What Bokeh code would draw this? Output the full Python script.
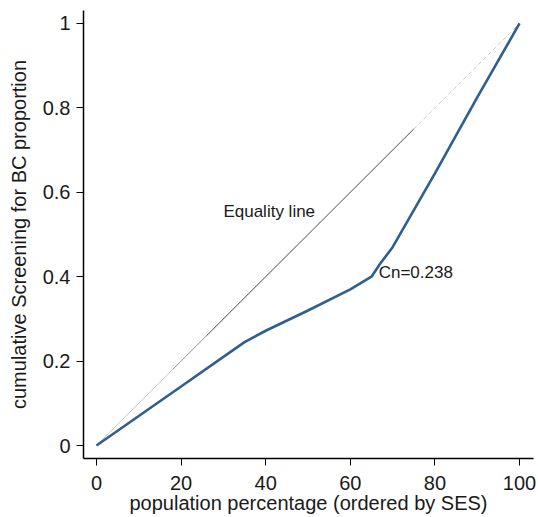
from bokeh.plotting import figure
from bokeh.models import FixedTicker, Range1d, Label
from bokeh.embed import file_html
from bokeh.resources import INLINE

# Concentration curve data
pop_pct = [0, 10, 20, 30, 35, 40, 50, 60, 65, 67, 70, 80, 90, 100]
cum_screen = [0, 0.07, 0.14, 0.21, 0.245, 0.272, 0.32, 0.37, 0.40, 0.43, 0.47, 0.645, 0.825, 1.0]

# Equality line break points (light start, darker middle, dashed light end)
eq_x = [0, 18, 26, 75, 100]
eq_y = [0, 0.18, 0.26, 0.75, 1.0]

x_ticks = [0, 20, 40, 60, 80, 100]
y_ticks = [0, 0.2, 0.4, 0.6, 0.8, 1.0]
y_tick_labels = {0: "0", 0.2: "0.2", 0.4: "0.4", 0.6: "0.6", 0.8: "0.8", 1.0: "1"}

x_title = "population percentage (ordered by SES)"
y_title = "cumulative Screening for BC proportion"

font = "Liberation Sans"
txt = "#1a1a1a"

p = figure(width=536, height=516, output_backend="svg", toolbar_location=None,
           x_range=Range1d(-3.07, 103.3), y_range=Range1d(-0.0307, 1.0307),
           min_border_left=83, min_border_top=10, min_border_bottom=56, min_border_right=3)
p.outline_line_color = None
p.grid.visible = False

p.line(eq_x[0:2], eq_y[0:2], line_color="#c8c8c8", line_width=1)
p.line(eq_x[1:3], eq_y[1:3], line_color="#909090", line_width=1)
p.line(eq_x[2:4], eq_y[2:4], line_color="#333333", line_width=0.9)
p.line(eq_x[3:5], eq_y[3:5], line_color="#c8c8c8", line_width=1, line_dash="4 3")

p.line(pop_pct, cum_screen, line_color="#2f5f8c", line_width=2.6)

p.add_layout(Label(x=30.0, y=0.554, text="Equality line", text_font=font,
                   text_font_size="17px", text_color=txt,
                   text_baseline="middle", text_align="left"))
p.add_layout(Label(x=66.7, y=0.41, text="Cn=0.238", text_font=font,
                   text_font_size="17px", text_color=txt,
                   text_baseline="middle", text_align="left"))

p.xaxis.ticker = FixedTicker(ticks=x_ticks)
p.yaxis.ticker = FixedTicker(ticks=y_ticks)
p.yaxis.major_label_overrides = y_tick_labels
p.xaxis.axis_label = x_title
p.yaxis.axis_label = y_title

for ax in (p.xaxis, p.yaxis):
    ax.axis_line_color = "#000000"
    ax.axis_line_width = 1.5
    ax.major_tick_line_color = "#000000"
    ax.major_tick_in = 0
    ax.major_tick_out = 7
    ax.minor_tick_line_color = None
    ax.major_label_text_font = font
    ax.major_label_text_font_size = "20px"
    ax.major_label_text_color = txt
    ax.axis_label_text_font = font
    ax.axis_label_text_font_size = "20px"
    ax.axis_label_text_font_style = "normal"
    ax.axis_label_text_color = txt

p.xaxis.major_label_standoff = 10
p.xaxis.axis_label_standoff = -1
p.yaxis.major_label_standoff = 6
p.yaxis.axis_label_standoff = 10

open("out.html", "w").write(file_html(p, INLINE))
